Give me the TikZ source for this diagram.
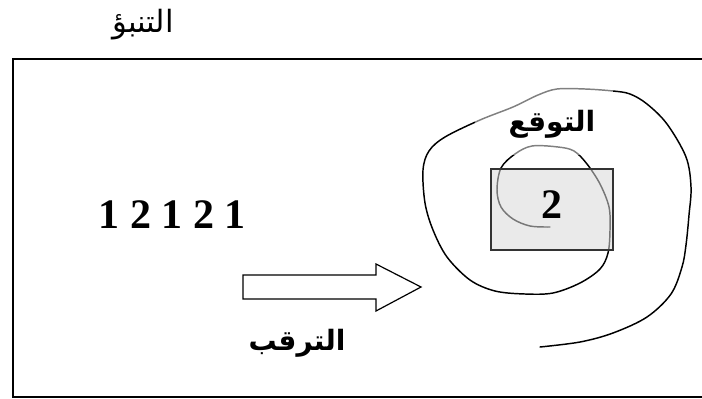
\documentclass[tikz,border=0pt]{standalone}
\usepackage{fontspec}
\setmainfont{Liberation Serif}
\newfontfamily\arabicfont[Script=Arabic]{DejaVu Sans}
\TeXXeTstate=1
\begin{document}
\begin{tikzpicture}[x=0.75pt,y=-0.75pt,
  frame/.style={draw=black,line width=1.5pt},
  curve/.style={draw=black,line width=1.1pt,line join=round,line cap=round},
  bignum/.style={font=\fontsize{31.5}{36}\selectfont\bfseries,inner sep=0pt},
  arlabel/.style={font=\arabicfont\fontsize{21}{25}\selectfont\bfseries,inner sep=0pt},
  arplain/.style={font=\arabicfont\fontsize{23}{27}\selectfont,inner sep=0pt}]
\useasboundingbox (0,0) rectangle (702,399);
\begin{scope}
\clip (0,0) rectangle (702,399);
% outer frame (right side beyond the picture)
\draw[frame] (710,59) -- (13,59) -- (13,397) -- (710,397);
% spiral
\draw[curve] plot[smooth,tension=0.55] coordinates {
(540,347) (580,342) (613,333) (647,317) (671,294) (682,267) (686,245)
(689,215) (691,187) (686,157) (667,124) (647,104) (630,94) (613,91)
(585,89) (557,89) (538,95) (513,107) (480,120) (445,137) (429,151)
(423,170) (425,203) (433,230) (447,257) (470,280) (495,291) (525,294)
(553,293) (580,283) (600,269) (608,253) (610,230) (609,207) (600,184)
(587,164) (574,151) (558,147) (532,146) (515,154) (501,168) (497,190)
(501,207) (513,219) (530,226) (550,227)};
\end{scope}
% label box (translucent)
\fill[white,opacity=0.5] (475,82) rectangle (613,155);
\node[arlabel] (expect) at (552,124) {\beginR التوقع\endR};
% gray box
\filldraw[fill=black!15,fill opacity=0.55,draw=black!80,line width=1.1pt] (491,169) rectangle (613,250);
\node[bignum] (two) at (552,205) {2};
% sequence
\node[bignum] (seq) at (172,215) {1 2 1 2 1};
% block arrow
\draw[line width=0.9pt,line join=miter] (243,275) -- (376,275) -- (376,264) -- (421,287)
 -- (376,311) -- (376,299) -- (243,299) -- cycle;
\node[arlabel] (watch) at (297,343) {\beginR الترقب\endR};
\node[arplain] (predict) at (143,25) {\beginR التنبؤ\endR};
\end{tikzpicture}
\end{document}
